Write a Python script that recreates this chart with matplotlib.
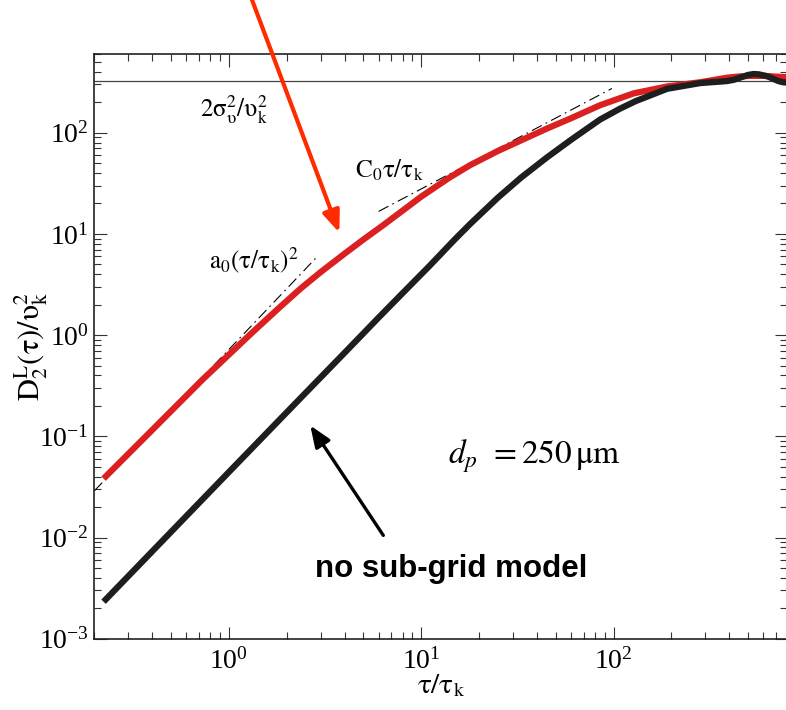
import matplotlib
matplotlib.use("Agg")
import matplotlib.pyplot as plt
from matplotlib.ticker import LogLocator, NullFormatter

plt.rcParams['font.family'] = 'serif'
plt.rcParams['font.serif'] = ['Liberation Serif', 'DejaVu Serif']
plt.rcParams['mathtext.fontset'] = 'stix'
plt.rcParams['axes.unicode_minus'] = False

# red curve (with sub-grid model)
tau_red = [0.223, 0.4, 0.724, 1.3, 1.8, 2.35, 3.0, 4.0, 5.0, 6.3, 8.0, 10, 14, 18, 25,
           33, 45, 60, 85, 127, 190, 283, 388, 450, 513, 600, 680, 800]
D_red = [0.0382, 0.116, 0.359, 1.03, 1.82, 2.87, 4.2, 6.4, 8.8, 12.1, 17.0, 23.4, 36, 48, 66,
         84, 110, 139, 187, 245, 287, 316, 350, 360, 365, 365, 360, 354]

# black curve (no sub-grid model)
tau_blk = [0.223, 1.0, 2.0, 4.11, 6.0, 8.0, 11, 15, 18, 25, 33, 45, 60, 85, 108, 130,
           190, 283, 388, 420, 470, 500, 535, 570, 630, 680, 720, 760, 800]
D_blk = [0.00232, 0.0444, 0.173, 0.708, 1.49, 2.6, 4.8, 8.9, 12.6, 22.8, 36, 57, 85, 135, 173, 205,
         272, 310, 324, 333, 358, 373, 381, 378, 362, 340, 324, 316, 313]

# asymptotes
a0_tau = [0.2, 2.85]
a0_D = [0.029, 5.85]
c0_tau = [6.0, 98]
c0_D = [16.7, 274]
plateau = 327

fig = plt.figure(figsize=(7.86, 7.10), dpi=100)
ax = fig.add_axes([0.1202, 0.1004, 0.8814, 0.8235])
ax.set_xscale('log')
ax.set_yscale('log')

ax.axhline(plateau, color='#444444', lw=0.9, zorder=1)
ax.plot(a0_tau, a0_D, color='black', lw=0.8, dashes=(10, 4, 1.5, 4), zorder=2)
ax.plot(c0_tau, c0_D, color='black', lw=0.8, dashes=(10, 4, 1.5, 4), zorder=2)
ax.plot(tau_red, D_red, color='#da2020', lw=4.5, solid_capstyle='butt', zorder=3)
ax.plot(tau_blk, D_blk, color='#1e1e1e', lw=4.5, solid_capstyle='butt', zorder=4)

ax.set_xlim(0.2, 800)
ax.set_ylim(1e-3, 600)

ax.xaxis.set_minor_locator(LogLocator(base=10, subs=range(2, 10), numticks=20))
ax.yaxis.set_minor_locator(LogLocator(base=10, subs=range(2, 10), numticks=20))
ax.xaxis.set_minor_formatter(NullFormatter())
ax.yaxis.set_minor_formatter(NullFormatter())
ax.tick_params(which='both', direction='in', top=True, right=True, width=0.8, color='#333333')
ax.tick_params(which='major', length=9, labelsize=20)
ax.tick_params(which='minor', length=5)
ax.tick_params(axis='x', pad=7)
ax.tick_params(axis='y', pad=4)
for s in ax.spines.values():
    s.set_linewidth(1.2)
    s.set_color('#222222')

ax.set_xlabel(r'$\mathrm{τ/τ_k}$', fontsize=21)
ax.set_ylabel(r'$\mathrm{D^L_2(τ)/υ^2_k}$', fontsize=22)
ax.xaxis.set_label_coords(0.5, -0.057)
ax.yaxis.set_label_coords(-0.064, 0.5)

ax.text(0.71, 143, r'$\mathrm{2σ^2_υ/υ^2_k}$', fontsize=18, ha='left', va='baseline')
ax.text(4.54, 36.5, r'$\mathrm{C_0τ/τ_k}$', fontsize=18, ha='left', va='baseline')
ax.text(0.79, 4.54, r'$\mathrm{a_0(τ/τ_k)^2}$', fontsize=18, ha='left', va='baseline')
ax.text(13.7, 0.054, r'$d_{p}\;\,=250\,\mathrm{μm}$', fontsize=24, ha='left', va='baseline')
ax.text(2.81, 0.00408, 'no sub-grid model', fontsize=22.5, fontweight='bold',
        family='Liberation Sans', ha='left', va='baseline')

ax.annotate('', xy=(3.75, 10.3), xycoords='data', xytext=(0.319, 1.005),
            textcoords='figure fraction', annotation_clip=False,
            arrowprops=dict(arrowstyle='-|>,head_length=0.5,head_width=0.2',
                            color='#ff2a00', lw=3, mutation_scale=26,
                            shrinkA=0, shrinkB=0))
ax.annotate('', xy=(2.65, 0.128), xycoords='data', xytext=(6.35, 0.0105),
            textcoords='data',
            arrowprops=dict(arrowstyle='-|>,head_length=0.5,head_width=0.2',
                            color='black', lw=2.4, mutation_scale=26,
                            shrinkA=0, shrinkB=0))

fig.savefig('out.png', dpi=100)
